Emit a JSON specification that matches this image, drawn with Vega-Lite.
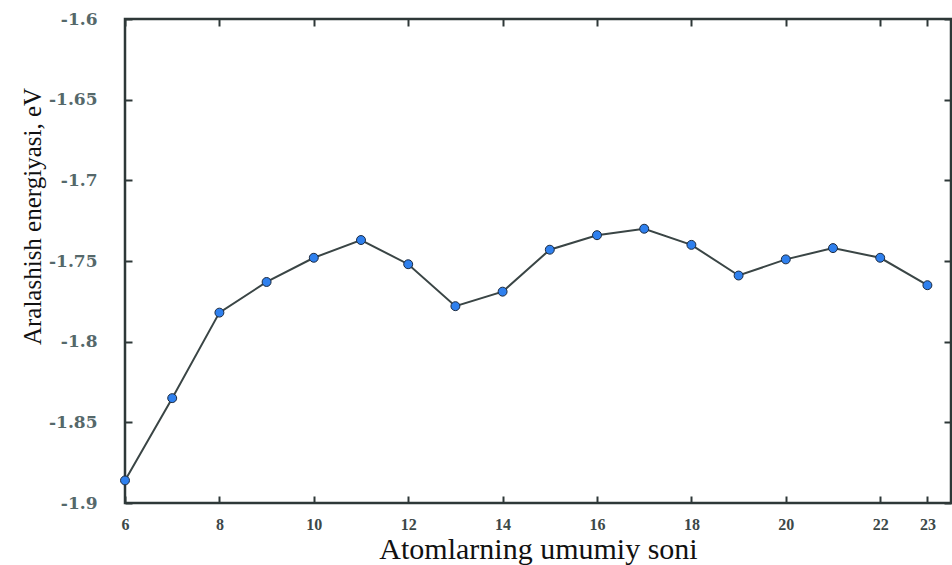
{
  "$schema": "https://vega.github.io/schema/vega-lite/v6.json",
  "width": 826,
  "height": 484,
  "autosize": {"type": "none"},
  "padding": {"left": 125, "top": 19, "right": 1, "bottom": 62},
  "background": "white",
  "config": {
    "view": {"stroke": "#2e3838", "strokeWidth": 2.5},
    "axis": {"domain": false, "grid": false, "tickColor": "#2e3838", "tickWidth": 2, "tickSize": -7}
  },
  "data": {
    "values": [
      {"n": 6, "e": -1.886},
      {"n": 7, "e": -1.835},
      {"n": 8, "e": -1.782},
      {"n": 9, "e": -1.763},
      {"n": 10, "e": -1.748},
      {"n": 11, "e": -1.737},
      {"n": 12, "e": -1.752},
      {"n": 13, "e": -1.778},
      {"n": 14, "e": -1.769},
      {"n": 15, "e": -1.743},
      {"n": 16, "e": -1.734},
      {"n": 17, "e": -1.730},
      {"n": 18, "e": -1.740},
      {"n": 19, "e": -1.759},
      {"n": 20, "e": -1.749},
      {"n": 21, "e": -1.742},
      {"n": 22, "e": -1.748},
      {"n": 23, "e": -1.765}
    ]
  },
  "layer": [
    {
      "mark": {
        "type": "line",
        "color": "#3a4545",
        "strokeWidth": 2,
        "point": {"filled": true, "fill": "#2f80ee", "stroke": "#1d2b40", "strokeWidth": 1, "size": 80, "opacity": 1}
      },
      "encoding": {
        "x": {
          "field": "n", "type": "quantitative",
          "scale": {"domain": [6, 23.5], "nice": false, "zero": false},
          "axis": {
            "orient": "bottom",
            "values": [6, 8, 10, 12, 14, 16, 18, 20, 22, 23],
            "title": "Atomlarning umumiy soni",
            "titleFont": "Liberation Serif", "titleFontSize": 30, "titleFontWeight": "normal", "titleColor": "#111111",
            "titleBaseline": "alphabetic", "titleY": 55,
            "labelFont": "Liberation Serif", "labelFontSize": 16, "labelFontWeight": "bold", "labelColor": "#3c4848",
            "labelPadding": 20, "labelFlush": false
          }
        },
        "y": {
          "field": "e", "type": "quantitative",
          "scale": {"domain": [-1.9, -1.6], "nice": false, "zero": false},
          "axis": {
            "orient": "left",
            "values": [-1.9, -1.85, -1.8, -1.75, -1.7, -1.65, -1.6],
            "labelExpr": "toString(datum.value)",
            "title": "Aralashish energiyasi, eV",
            "titleFont": "Liberation Serif", "titleFontSize": 25, "titleFontWeight": "normal", "titleColor": "#111111",
            "titleX": -80, "titleY": 197, "titleAlign": "center",
            "labelFont": "DejaVu Serif", "labelFontSize": 17, "labelFontWeight": "bold", "labelColor": "#55686a",
            "labelPadding": 35, "labelFlush": false
          }
        }
      }
    },
    {
      "mark": {"type": "point", "opacity": 0},
      "encoding": {
        "x": {
          "field": "n", "type": "quantitative",
          "axis": {"orient": "top", "values": [6, 8, 10, 12, 14, 16, 18, 20, 22, 23], "labels": false, "title": null}
        },
        "y": {
          "field": "e", "type": "quantitative",
          "axis": {"orient": "right", "values": [-1.9, -1.85, -1.8, -1.75, -1.7, -1.65, -1.6], "labels": false, "title": null}
        }
      }
    }
  ],
  "resolve": {"axis": {"x": "independent", "y": "independent"}}
}
